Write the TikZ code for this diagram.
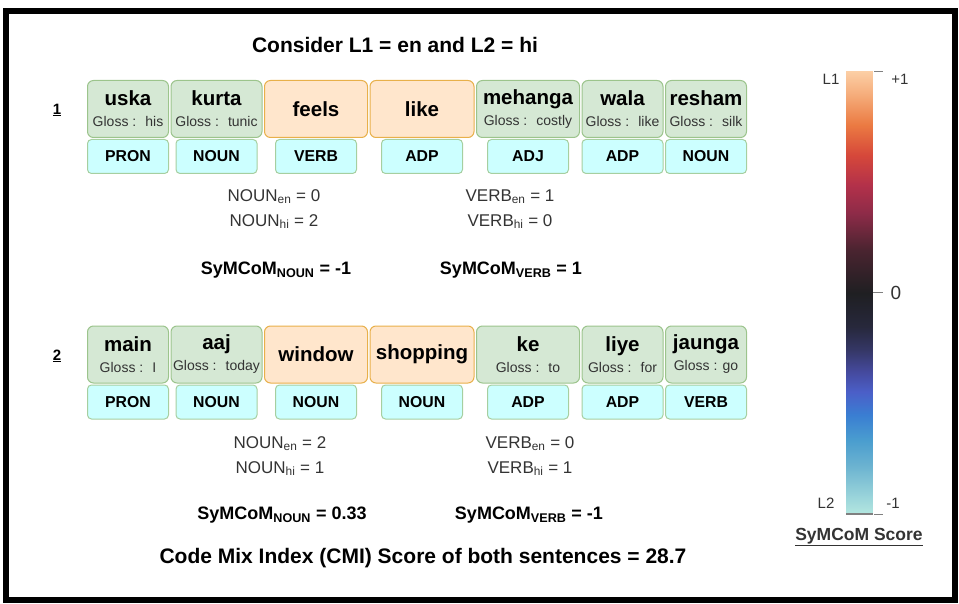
\documentclass[tikz,border=0pt]{standalone}
\usepackage{fontspec}
\setmainfont{Liberation Sans}
\usetikzlibrary{positioning}

\definecolor{wordfill}{HTML}{D5E8D4}
\definecolor{wordline}{HTML}{9CC48C}
\definecolor{engfill}{HTML}{FFE6CC}
\definecolor{engline}{HTML}{E8B04A}
\definecolor{tagfill}{HTML}{CCFFFF}
\definecolor{tagline}{HTML}{A6CFA0}
\definecolor{inkgray}{HTML}{333333}

% fonts (sizes in pt, picture unit is 1pt)
\newcommand{\headfont}{\fontsize{21}{25}\selectfont\bfseries}
\newcommand{\wordfont}{\fontsize{20.5}{21}\selectfont\bfseries}
\newcommand{\glossfont}{\fontsize{14}{21}\selectfont\mdseries\color{inkgray}}
\newcommand{\tagfont}{\fontsize{15.8}{18}\selectfont\bfseries}
\newcommand{\countfont}{\fontsize{17}{25}\selectfont}
\newcommand{\scorefont}{\fontsize{18}{22}\selectfont\bfseries}
\newcommand{\barfont}{\fontsize{15}{18}\selectfont}

\begin{document}
\begin{tikzpicture}[x=1pt, y=-1pt,
    word/.style={rectangle, draw=wordline, fill=wordfill, line width=1pt, rounded corners=6pt, minimum height=57pt, inner sep=0pt, align=center, font=\wordfont},
    engword/.style={word, draw=engline, fill=engfill},
    tagbox/.style={rectangle, draw=tagline, fill=tagfill, line width=1pt, rounded corners=4pt, minimum width=81pt, minimum height=34pt, inner sep=0pt, font=\tagfont},
    count/.style={align=center, font=\countfont, text=inkgray},
    score/.style={font=\scorefont},
    tick/.style={draw=gray, line width=1pt},
    barlabel/.style={font=\barfont, text=inkgray}
]
\useasboundingbox (0,0) rectangle (959,604);
\draw[line width=6pt] (6,11) rectangle (955,600);

\node[font=\headfont] (title) at (395,45) {Consider L1 = en and L2 = hi};

% Sentence 1
\node[font=\fontsize{15}{18}\selectfont\bfseries] (num1) at (57,110) {\underline{1}};
\node[word, minimum width=81pt] (uska) at (128,109) {uska\\\glossfont Gloss :~ his};
\node[word, minimum width=91pt, right=1.5pt of uska] (kurta) {kurta\\\glossfont Gloss :~ tunic};
\node[engword, minimum width=103pt, right=1.5pt of kurta] (feels) {feels};
\node[engword, minimum width=104pt, right=1.5pt of feels] (like) {like};
\node[word, minimum width=103pt, right=1.5pt of like] (mehanga) {mehanga\\\glossfont Gloss :~ costly};
\node[word, minimum width=81pt, right=1.5pt of mehanga] (wala) {wala\\\glossfont Gloss :~ like};
\node[word, minimum width=81pt, right=1.5pt of wala] (resham) {resham\\\glossfont Gloss :~ silk};

\node[tagbox, below=1pt of uska] (t-uska) {PRON};
\node[tagbox, below=1pt of kurta] (t-kurta) {NOUN};
\node[tagbox, below=1pt of feels] (t-feels) {VERB};
\node[tagbox, below=1pt of like] (t-like) {ADP};
\node[tagbox, below=1pt of mehanga] (t-mehanga) {ADJ};
\node[tagbox, below=1pt of wala] (t-wala) {ADP};
\node[tagbox, below=1pt of resham] (t-resham) {NOUN};

\node[count] (noun1) at (274,209) {NOUN\textsubscript{en} = 0\\NOUN\textsubscript{hi} = 2};
\node[count] (verb1) at (510,209) {VERB\textsubscript{en} = 1\\VERB\textsubscript{hi} = 0};
\node[score] (snoun1) at (276,270) {SyMCoM\textsubscript{NOUN} = -1};
\node[score] (sverb1) at (511,270) {SyMCoM\textsubscript{VERB} = 1};

% Sentence 2
\node[font=\fontsize{15}{18}\selectfont\bfseries] (num2) at (57,356) {\underline{2}};
\node[word, minimum width=81pt] (main) at (128,354.5) {main\\\glossfont Gloss :~ I};
\node[word, minimum width=91pt, right=1.5pt of main] (aaj) {aaj\\\glossfont Gloss :~ today};
\node[engword, minimum width=103pt, right=1.5pt of aaj] (window) {window};
\node[engword, minimum width=104pt, right=1.5pt of window] (shopping) {shopping};
\node[word, minimum width=103pt, right=1.5pt of shopping] (ke) {ke\\\glossfont Gloss :~ to};
\node[word, minimum width=81pt, right=1.5pt of ke] (liye) {liye\\\glossfont Gloss :~ for};
\node[word, minimum width=81pt, right=1.5pt of liye] (jaunga) {jaunga\\\glossfont Gloss : go};

\node[tagbox, below=1pt of main] (t-main) {PRON};
\node[tagbox, below=1pt of aaj] (t-aaj) {NOUN};
\node[tagbox, below=1pt of window] (t-window) {NOUN};
\node[tagbox, below=1pt of shopping] (t-shopping) {NOUN};
\node[tagbox, below=1pt of ke] (t-ke) {ADP};
\node[tagbox, below=1pt of liye] (t-liye) {ADP};
\node[tagbox, below=1pt of jaunga] (t-jaunga) {VERB};

\node[count] (noun2) at (280,456) {NOUN\textsubscript{en} = 2\\NOUN\textsubscript{hi} = 1};
\node[count] (verb2) at (530,456) {VERB\textsubscript{en} = 0\\VERB\textsubscript{hi} = 1};
\node[score] (snoun2) at (282,515) {SyMCoM\textsubscript{NOUN} = 0.33};
\node[score] (sverb2) at (529,515) {SyMCoM\textsubscript{VERB} = -1};

\node[font=\headfont] (cmi) at (423,558) {Code Mix Index (CMI) Score of both sentences = 28.7};

% SyMCoM colour scale, filled strip by strip between colour stops
\foreach \ya/\ca/\yb/\cb in {71/FCCFA6/95/F5AC7A, 95/F5AC7A/125/EB7A42, 125/EB7A42/155/D6483A,
    155/D6483A/185/B3314A, 185/B3314A/213/8E2B48, 213/8E2B48/250/4A2430, 250/4A2430/293/1F1F22,
    293/1F1F22/327/27283C, 327/27283C/350/353766, 350/353766/372/454A9E, 372/454A9E/392/4B5FC8,
    392/4B5FC8/415/3A7ED2, 415/3A7ED2/440/4A9DCF, 440/4A9DCF/465/6AB2D0, 465/6AB2D0/514/B4E7E0}{
  \definecolor{bartop}{HTML}{\ca}
  \definecolor{barbot}{HTML}{\cb}
  \pgfmathtruncatemacro{\n}{\yb-\ya-1}
  \foreach \k in {0,...,\n}{
    \pgfmathsetmacro{\p}{100-100*\k/(\yb-\ya)}
    \fill[bartop!\p!barbot] (846,{\ya+\k}) rectangle (873,{\ya+\k+1.3});
  }
}
\draw[gray, line width=1.5pt] (846,514) -- (873,514);
\draw[tick] (874,72) -- (883,72);
\draw[tick] (873,293) -- (883,293);
\draw[tick] (874,514) -- (883,514);
\node[barlabel] (l1) at (831,79) {L1};
\node[barlabel] (plus) at (900,79) {+1};
\node[barlabel, font=\fontsize{19}{20}\selectfont] (zero) at (896,293) {0};
\node[barlabel] (l2) at (826,503) {L2};
\node[barlabel] (minus) at (893,503) {-1};
\node[font=\fontsize{17.5}{20}\selectfont\bfseries, text=inkgray] (scorename) at (859,537) {\underline{SyMCoM Score}};

\end{tikzpicture}
\end{document}
